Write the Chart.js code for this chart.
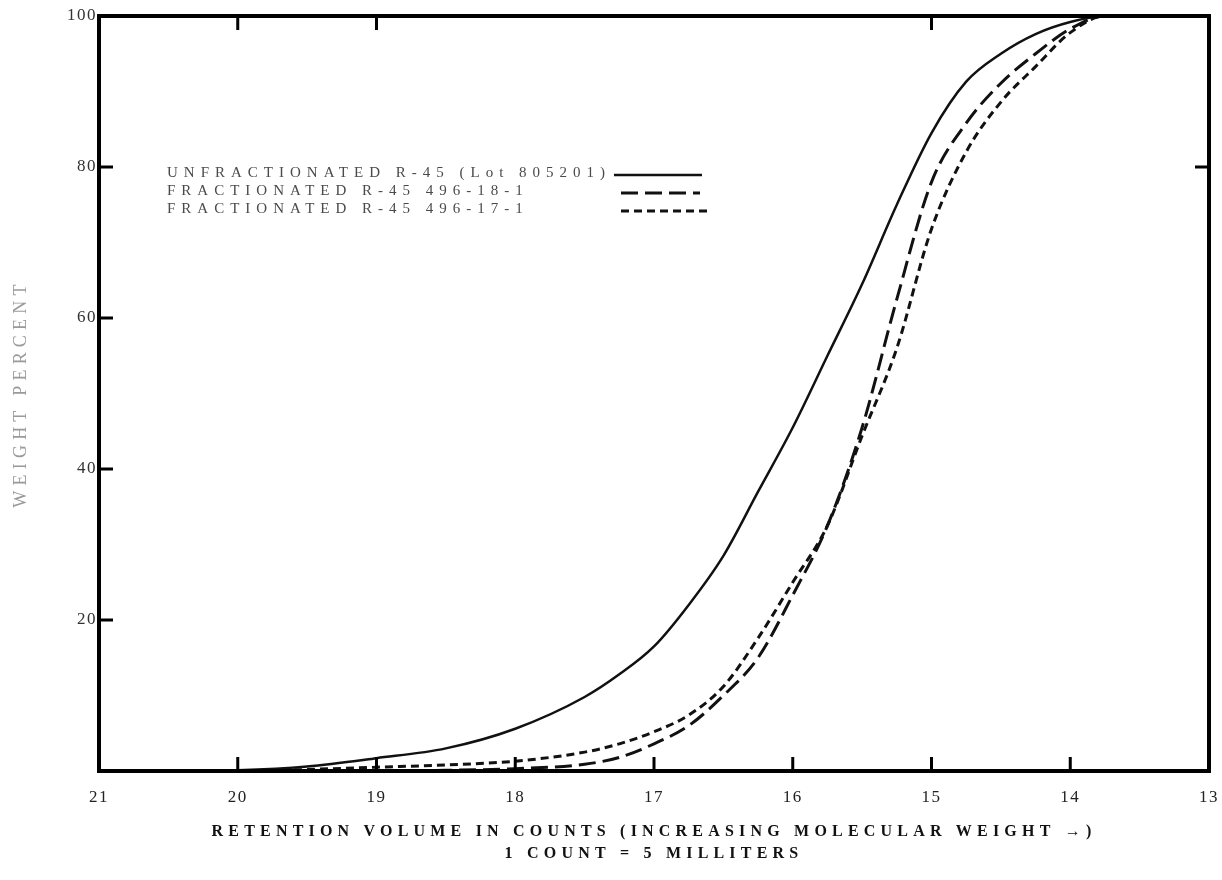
<!DOCTYPE html>
<html>
<head>
<meta charset="utf-8">
<title>Weight percent vs retention volume</title>
<script src="https://cdn.jsdelivr.net/npm/chart.js@4.4.1/dist/chart.umd.min.js"></script>
<style>
  html, body { margin: 0; padding: 0; background: #fff; }
  #chart { display: block; }
</style>
</head>
<body>
<canvas id="chart" width="1222" height="880"></canvas>
<script>
// retention volume (counts)
const counts = [21, 20.5, 20, 19.5, 19, 18.5, 18, 17.5, 17.25, 17, 16.75, 16.5, 16.25, 16, 15.75, 15.5, 15.25, 15, 14.75, 14.5, 14.25, 14, 13.75, 13.5, 13];

const unfractionated = [0, 0, 0.1, 0.6, 1.7, 3.0, 5.6, 9.8, 12.8, 16.5, 22, 28.5, 37, 45.5, 55, 64.5, 75, 84.5, 91.3, 95, 97.6, 99.2, 100, 100, 100];
const fractionated18 = [0, 0, 0, 0, 0, 0.1, 0.3, 0.9, 1.8, 3.6, 6, 10, 15, 23.3, 32.5, 45.5, 62.5, 78, 85.8, 91.1, 95, 98.3, 100, 100, 100];
const fractionated17 = [0, 0, 0, 0.2, 0.5, 0.8, 1.3, 2.5, 3.6, 5.2, 7.4, 11.2, 17.6, 25, 32.5, 44.4, 56, 71.8, 82, 88.6, 93.3, 97.8, 100, 100, 100];

const seriesLabels = [
    'UNFRACTIONATED R-45 (Lot 805201)',
    'FRACTIONATED R-45 496-18-1',
    'FRACTIONATED R-45 496-17-1'
];

const xTicks = [21, 20, 19, 18, 17, 16, 15, 14, 13];
const yTicks = [0, 20, 40, 60, 80, 100];

// inward tick marks as they appear on the frame
const bottomMarks = [20, 19, 18, 17, 16, 15, 14];
const topMarks = [20, 19, 15];
const leftMarks = [80, 60, 40, 20];
const rightMarks = [80];

const serif = "'Liberation Serif', 'Times New Roman', serif";

function points(values) {
    return counts.map((c, i) => ({ x: c, y: values[i] }));
}

const framePlugin = {
    id: 'frame',
    beforeDraw(chart) {
        // spacing for the tick numbers
        chart.ctx.letterSpacing = '1.5px';
    },
    afterDatasetsDraw(chart) {
        const { ctx, chartArea: a, scales: { x, y } } = chart;
        const len = 14;
        ctx.save();
        ctx.strokeStyle = '#000';
        ctx.lineWidth = 4;
        ctx.setLineDash([]);
        ctx.strokeRect(a.left, a.top, a.right - a.left, a.bottom - a.top);
        ctx.lineWidth = 3;
        ctx.beginPath();
        bottomMarks.forEach(v => {
            const px = x.getPixelForValue(v);
            ctx.moveTo(px, a.bottom); ctx.lineTo(px, a.bottom - len);
        });
        topMarks.forEach(v => {
            const px = x.getPixelForValue(v);
            ctx.moveTo(px, a.top); ctx.lineTo(px, a.top + len);
        });
        leftMarks.forEach(v => {
            const py = y.getPixelForValue(v);
            ctx.moveTo(a.left, py); ctx.lineTo(a.left + len, py);
        });
        rightMarks.forEach(v => {
            const py = y.getPixelForValue(v);
            ctx.moveTo(a.right, py); ctx.lineTo(a.right - len, py);
        });
        ctx.stroke();
        ctx.restore();
        // axis titles are drawn in the z=1 layer right after this, widely spaced like the scan
        ctx.letterSpacing = '5.2px';
    }
};

// legend block: label text on the left, line sample on the right
const legendPlugin = {
    id: 'sampleLegend',
    afterDraw(chart) {
        const ctx = chart.ctx;
        const rows = [
            { y: 173, x0: 614, x1: 702 },
            { y: 191, x0: 621, x1: 700 },
            { y: 209, x0: 621, x1: 708 }
        ];
        ctx.save();
        ctx.letterSpacing = '6px';
        chart.data.datasets.forEach((ds, i) => {
            const r = rows[i];
            ctx.font = '15px ' + serif;
            ctx.fillStyle = '#4a4a4a';
            ctx.textBaseline = 'middle';
            ctx.textAlign = 'left';
            ctx.fillText(ds.label, 167, r.y);
            ctx.strokeStyle = ds.borderColor;
            ctx.lineWidth = ds.borderWidth;
            ctx.setLineDash(ds.borderDash || []);
            ctx.beginPath();
            ctx.moveTo(r.x0, r.y + 2);
            ctx.lineTo(r.x1, r.y + 2);
            ctx.stroke();
        });
        ctx.restore();
    }
};

const config = {
    type: 'line',
    data: {
        datasets: [{
            label: seriesLabels[0],
            data: points(unfractionated),
            borderColor: '#111',
            borderWidth: 2.5,
            borderDash: []
        }, {
            label: seriesLabels[1],
            data: points(fractionated18),
            borderColor: '#111',
            borderWidth: 3,
            borderDash: [17, 7]
        }, {
            label: seriesLabels[2],
            data: points(fractionated17),
            borderColor: '#111',
            borderWidth: 3,
            borderDash: [8, 5]
        }]
    },
    options: {
        responsive: false,
        animation: false,
        devicePixelRatio: 1,
        layout: {
            padding: { left: 0, right: 13, top: 16, bottom: 0 }
        },
        elements: {
            point: { radius: 0 },
            line: { cubicInterpolationMode: 'monotone', fill: false }
        },
        plugins: {
            legend: { display: false },
            tooltip: { enabled: false }
        },
        scales: {
            x: {
                type: 'linear',
                reverse: true,
                min: 13,
                max: 21,
                afterBuildTicks: s => { s.ticks = xTicks.map(v => ({ value: v })); },
                afterFit: s => { s.height = 109; },
                grid: { color: 'transparent', drawOnChartArea: false, drawTicks: true, tickLength: 13, z: 1 },
                border: { display: false },
                ticks: {
                    padding: 3,
                    color: '#222',
                    autoSkip: false,
                    maxRotation: 0,
                    font: { family: serif, size: 17 }
                },
                title: {
                    display: true,
                    text: ['RETENTION VOLUME IN COUNTS (INCREASING MOLECULAR WEIGHT \u2192)', '1 COUNT = 5 MILLITERS'],
                    color: '#111',
                    font: { family: serif, size: 16, weight: 'bold', lineHeight: 1.375 },
                    padding: { top: 0, bottom: 15 }
                }
            },
            y: {
                min: 0,
                max: 100,
                afterBuildTicks: s => { s.ticks = yTicks.map(v => ({ value: v })); },
                afterFit: s => { s.width = 99; },
                grid: { color: 'transparent', drawOnChartArea: false, drawTicks: false, z: 1 },
                border: { display: false },
                ticks: {
                    padding: 2,
                    color: '#333',
                    font: { family: serif, size: 17 },
                    callback: v => v === 0 ? '' : v
                },
                title: {
                    display: true,
                    text: 'WEIGHT PERCENT',
                    color: '#9a9a9a',
                    font: { family: serif, size: 18 },
                    padding: { top: 10, bottom: 0 }
                }
            }
        }
    },
    plugins: [framePlugin, legendPlugin]
};

const myChart = new Chart(document.getElementById('chart'), config);
</script>
</body>
</html>
